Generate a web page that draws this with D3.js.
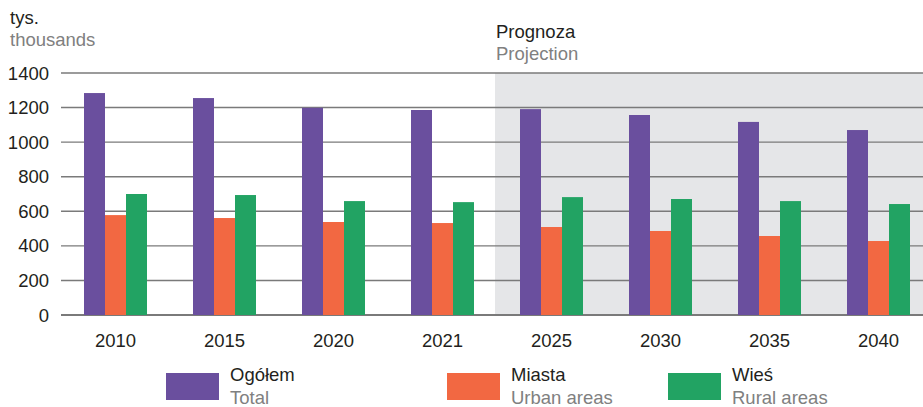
<!DOCTYPE html>
<html>
<head>
<meta charset="utf-8">
<script src="https://cdn.jsdelivr.net/npm/d3@7.9.0/dist/d3.min.js"></script>
<style>
  body { margin: 0; background: #fff; }
  svg { font-family: "Liberation Sans", Arial, sans-serif; }
</style>
</head>
<body>
<svg id="chart" width="923" height="407"></svg>
<script>
// data
const years = ['2010', '2015', '2020', '2021', '2025', '2030', '2035', '2040'];
const total = [1284, 1255, 1199, 1186, 1191, 1157, 1117, 1070];
const urban = [578, 561, 538, 532, 509, 486, 457, 428];
const rural = [700, 694, 659, 653, 682, 671, 659, 642];
const yTicks = [0, 200, 400, 600, 800, 1000, 1200, 1400];
const projectionFrom = '2025';

const series = [
  { pl: 'Ogółem', en: 'Total', values: total, color: '#6a4f9e' },
  { pl: 'Miasta', en: 'Urban areas', values: urban, color: '#f26842' },
  { pl: 'Wieś', en: 'Rural areas', values: rural, color: '#22a363' }
];

const svg = d3.select('#chart');
const plotLeft = 61, plotRight = 923, plotTop = 73, plotBottom = 315;
const step = 109;
const fs = '18.5px';
const dark = '#231f20', grey = '#808080';

const x0 = d3.scaleBand()
  .domain(years)
  .range([plotLeft, plotLeft + step * years.length])
  .paddingInner(0).paddingOuter(0);

const groupW = 63;
const x1 = d3.scaleBand()
  .domain(series.map(s => s.en))
  .range([(step - groupW) / 2, (step + groupW) / 2]);

const y = d3.scaleLinear().domain([0, 1400]).range([plotBottom, plotTop]);

// projection shading
svg.append('rect')
  .attr('x', x0(projectionFrom) - 2)
  .attr('y', y(1400))
  .attr('width', plotRight - x0(projectionFrom) + 2)
  .attr('height', y(0) - y(1400))
  .attr('fill', '#e5e6e8');

// gridlines
svg.append('g').selectAll('line')
  .data(yTicks)
  .join('line')
  .attr('x1', plotLeft).attr('x2', plotRight)
  .attr('y1', d => y(d)).attr('y2', d => y(d))
  .attr('stroke', '#7a7a7a')
  .attr('stroke-width', d => d === 0 ? 1.8 : 1.4);

// y tick labels
svg.append('g').selectAll('text')
  .data(yTicks)
  .join('text')
  .attr('x', 49)
  .attr('y', d => y(d) + 6.5)
  .attr('text-anchor', 'end')
  .attr('font-size', fs)
  .attr('fill', dark)
  .text(d => d);

// bars
const groups = svg.append('g').selectAll('g')
  .data(years)
  .join('g')
  .attr('transform', d => `translate(${x0(d)},0)`);

groups.selectAll('rect')
  .data((d, i) => series.map(s => ({ key: s.en, value: s.values[i], color: s.color })))
  .join('rect')
  .attr('x', d => x1(d.key))
  .attr('width', x1.bandwidth())
  .attr('y', d => y(d.value))
  .attr('height', d => y(0) - y(d.value))
  .attr('fill', d => d.color);

// x labels
svg.append('g').selectAll('text')
  .data(years)
  .join('text')
  .attr('x', d => x0(d) + step / 2)
  .attr('y', 347)
  .attr('text-anchor', 'middle')
  .attr('font-size', fs)
  .attr('fill', dark)
  .text(d => d);

// unit labels
svg.append('text').attr('x', 10).attr('y', 24).attr('font-size', fs).attr('fill', dark).text('tys.');
svg.append('text').attr('x', 10).attr('y', 46).attr('font-size', fs).attr('fill', grey).text('thousands');
svg.append('text').attr('x', 496).attr('y', 38).attr('font-size', fs).attr('fill', dark).text('Prognoza');
svg.append('text').attr('x', 496).attr('y', 60).attr('font-size', fs).attr('fill', grey).text('Projection');

// legend
const legendX = [166, 447, 668];
const legend = svg.append('g').selectAll('g')
  .data(series)
  .join('g')
  .attr('transform', (d, i) => `translate(${legendX[i]},373)`);

legend.append('rect')
  .attr('width', 53).attr('height', 27)
  .attr('fill', d => d.color);
legend.append('text')
  .attr('x', 64).attr('y', 8)
  .attr('font-size', fs).attr('fill', dark)
  .text(d => d.pl);
legend.append('text')
  .attr('x', 64).attr('y', 31)
  .attr('font-size', fs).attr('fill', grey)
  .text(d => d.en);
</script>
</body>
</html>
